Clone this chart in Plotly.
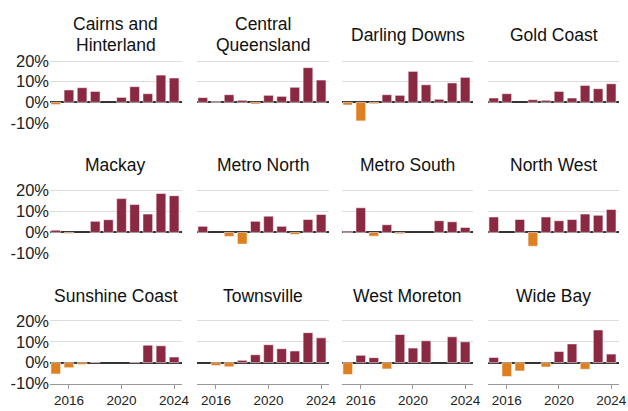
import plotly.graph_objects as go

years = [2015, 2016, 2017, 2018, 2019, 2020, 2021, 2022, 2023, 2024]

regions = ["Cairns and<br>Hinterland", "Central<br>Queensland", "Darling Downs", "Gold Coast",
           "Mackay", "Metro North", "Metro South", "North West",
           "Sunshine Coast", "Townsville", "West Moreton", "Wide Bay"]

cairns = [-1.1, 6.0, 7.1, 5.3, 0.0, 2.4, 7.6, 4.2, 13.2, 11.8]
central_qld = [2.3, 0.3, 3.7, 1.0, -0.8, 3.4, 2.9, 7.3, 16.8, 10.8]
darling_downs = [-1.3, -9.0, -0.7, 3.7, 3.4, 15.0, 8.5, 1.5, 9.4, 12.1]
gold_coast = [2.1, 4.2, 0.0, 1.3, 1.0, 5.3, 2.1, 8.2, 6.6, 9.0]
mackay = [1.1, -0.5, 0.0, 5.3, 6.1, 16.2, 13.4, 8.8, 18.7, 17.6]
metro_north = [2.9, 0.0, -1.9, -5.6, 5.3, 7.8, 2.9, -1.0, 6.2, 8.6]
metro_south = [0.6, 11.8, -1.8, 3.7, -0.6, 0.0, 0.0, 5.6, 5.1, 2.4]
north_west = [7.4, 0.0, 6.2, -6.6, 7.4, 5.6, 6.2, 8.8, 8.2, 11.0]
sunshine_coast = [-5.4, -2.4, -0.9, 0.3, 0.0, 0.0, 0.3, 8.4, 8.1, 2.7]
townsville = [0.0, -1.4, -2.0, 1.1, 3.8, 8.6, 6.7, 5.6, 14.4, 11.9]
west_moreton = [-5.7, 3.5, 2.4, -3.0, 13.5, 7.0, 10.5, 0.0, 12.4, 10.0]
wide_bay = [2.5, -6.7, -4.0, 0.0, -2.1, 5.4, 9.0, -3.2, 15.7, 4.1]

series = [cairns, central_qld, darling_downs, gold_coast,
          mackay, metro_north, metro_south, north_west,
          sunshine_coast, townsville, west_moreton, wide_bay]

y_ticks = [-10, 0, 10, 20]
y_tick_labels = ["-10%", "0%", "10%", "20%"]
x_ticks = [2016, 2020, 2024]

POS = "#8B2942"
NEG = "#DE7F22"
W, H = 628, 411

col_px = [(50, 182), (197, 329), (342, 473), (488, 619)]
row_px = [(56.9, 123.0), (186.5, 253.3), (316.8, 383.5)]
title_y = [[24, 45], [165], [296]]

fig = go.Figure()
ann = []
for i, (name, vals) in enumerate(zip(regions, series)):
    r, c = divmod(i, 4)
    n = i + 1
    xa = "x" if n == 1 else f"x{n}"
    ya = "y" if n == 1 else f"y{n}"
    colors = [POS if v >= 0 else NEG for v in vals]
    lw = [0 if v == 0 else 1 for v in vals]
    fig.add_trace(go.Bar(
        x=years, y=vals, xaxis=xa, yaxis=ya,
        marker=dict(color=colors, line=dict(color="rgba(255,255,255,0.55)", width=lw)),
        width=0.74, showlegend=False, hoverinfo="x+y",
    ))
    x0, x1 = col_px[c]
    y0, y1 = row_px[r]
    xkey = "xaxis" if n == 1 else f"xaxis{n}"
    ykey = "yaxis" if n == 1 else f"yaxis{n}"
    bottom = (r == 2)
    fig.layout[xkey] = dict(
        domain=[x0 / W, x1 / W], anchor=ya, range=[2014.56, 2024.6],
        tickvals=x_ticks, showticklabels=bottom, showgrid=False, zeroline=False,
        showline=bottom, linecolor="#999999", linewidth=1,
        ticks="outside" if bottom else "", ticklen=4, tickcolor="#999999",
        tickfont=dict(size=13.5, color="#222222", family="Liberation Sans, Arial"),
        fixedrange=True, automargin=False,
    )
    fig.layout[ykey] = dict(
        domain=[1 - y1 / H, 1 - y0 / H], anchor=xa, range=[-10, 22],
        tickvals=y_ticks, ticktext=y_tick_labels, showticklabels=(c == 0),
        showgrid=True, gridcolor="#dcdcdc", gridwidth=1,
        zeroline=True, zerolinecolor="#333333", zerolinewidth=1.5,
        ticks="", tickfont=dict(size=16.5, color="#222222", family="Liberation Sans, Arial"),
        fixedrange=True, automargin=False,
    )
    lines = name.split("<br>")
    cx = (x0 + x1) / 2 / W
    if len(lines) == 2:
        ys = title_y[0]
    else:
        ys = [35] if r == 0 else title_y[r]
    for txt, ty in zip(lines, ys):
        ann.append(dict(text=txt, x=cx, y=1 - ty / H, xref="paper", yref="paper",
                        xanchor="center", yanchor="middle", showarrow=False,
                        font=dict(size=17.5, color="#111111", family="Liberation Sans, Arial")))

fig.update_layout(
    width=W, height=H, margin=dict(l=0, r=0, t=0, b=0),
    plot_bgcolor="white", paper_bgcolor="white",
    annotations=ann, bargap=0.2,
    font=dict(family="Liberation Sans, Arial"),
)
fig.write_html("out.html", config={"displayModeBar": False},
               post_script="document.body.style.margin='0';document.body.style.overflow='hidden';")
